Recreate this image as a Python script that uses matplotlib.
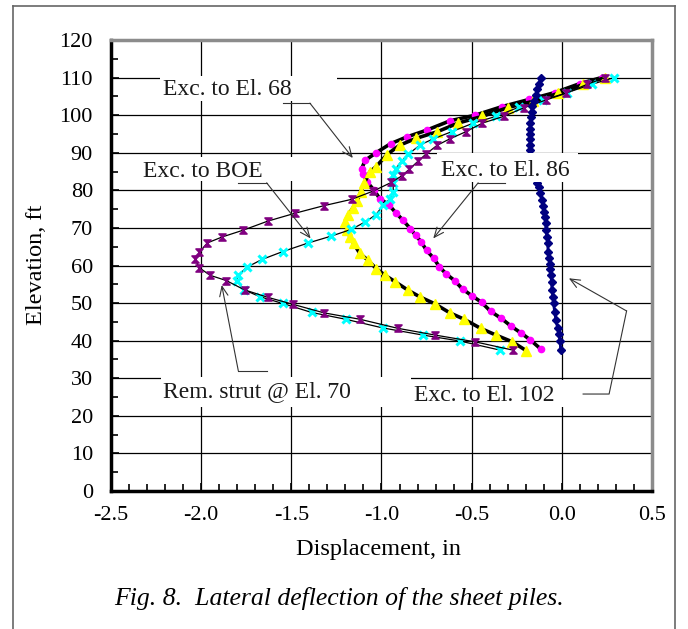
import numpy as np
import matplotlib
matplotlib.use('Agg')
import matplotlib.pyplot as plt
from matplotlib.path import Path
from matplotlib.patches import Rectangle
from matplotlib.lines import Line2D

plt.rcParams['font.family'] = ['Liberation Serif', 'DejaVu Serif']
plt.rcParams['axes.unicode_minus'] = False

# data (displacement in inches, elevation in ft)

# Exc. to El. 86 (magenta)
mag_x = [0.22, 0.10, -0.04, -0.18, -0.33, -0.48, -0.62, -0.75, -0.86, -0.95, -1.03, -1.09, -1.11, -1.10,
         -1.08, -1.04, -1.01, -0.96, -0.92, -0.88, -0.84, -0.81, -0.78, -0.75, -0.71, -0.68, -0.64, -0.595,
         -0.55, -0.50, -0.445, -0.395, -0.335, -0.28, -0.225, -0.175, -0.115]
mag_y = [110, 108.4, 106.0, 104.2, 102.3, 100.0, 98.5, 96.0, 94.2, 92.4, 90.0, 88.0, 85.8, 84.4,
         82.2, 80.0, 77.8, 76.2, 74.0, 72.0, 69.8, 68.0, 66.3, 64.0, 61.9, 59.7, 57.7, 56.0,
         53.7, 52.0, 50.2, 47.8, 45.9, 43.8, 42.0, 40.2, 37.7]

# Exc. to El. 68 (yellow)
yel_x = [0.24, 0.12, -0.02, -0.16, -0.30, -0.44, -0.575, -0.69, -0.81, -0.90, -0.97, -1.03, -1.065,
         -1.095, -1.115, -1.135, -1.16, -1.185, -1.20, -1.19, -1.175, -1.155, -1.12, -1.075, -1.03,
         -0.98, -0.925, -0.852, -0.785, -0.704, -0.621, -0.542, -0.451, -0.366, -0.275, -0.196]
yel_y = [110, 108.2, 105.8, 103.7, 102.0, 99.7, 97.9, 95.6, 93.8, 92.0, 89.5, 86.3, 84.9,
         82.0, 79.6, 77.2, 75.2, 73.4, 71.6, 69.5, 67.6, 65.9, 63.2, 61.4, 59.2,
         57.4, 55.7, 53.4, 51.6, 49.8, 47.4, 45.7, 43.3, 41.5, 39.7, 37.3]

# Exc. to BOE (cyan)
cyan_x = [0.29, 0.165, 0.03, -0.104, -0.24, -0.364, -0.49, -0.611, -0.713, -0.785, -0.852, -0.889,
          -0.921, -0.935, -0.935, -0.935, -0.955, -0.99, -1.031, -1.09, -1.168, -1.28, -1.406, -1.548,
          -1.663, -1.748, -1.794, -1.803, -1.761, -1.674, -1.548, -1.387, -1.199, -0.994, -0.772,
          -0.565, -0.344]
cyan_y = [110, 108.2, 106.0, 104.0, 102.1, 99.7, 97.9, 95.6, 93.7, 92.1, 89.6, 87.8,
          85.7, 84.1, 82.0, 79.6, 77.7, 76.1, 73.5, 71.6, 69.6, 67.8, 66.0, 63.7,
          61.6, 59.5, 57.4, 55.9, 53.5, 51.7, 49.9, 47.5, 45.7, 43.4, 41.5,
          39.9, 37.5]

# Rem. strut @ El. 70 (purple)
pur_x = [0.24, 0.14, 0.022, -0.09, -0.209, -0.321, -0.44, -0.532, -0.621, -0.691, -0.752, -0.796,
         -0.846, -0.889, -0.946, -1.046, -1.166, -1.321, -1.48, -1.631, -1.767, -1.883, -1.966, -2.01,
         -2.034, -2.01, -1.951, -1.861, -1.759, -1.628, -1.493, -1.319, -1.12, -0.911, -0.704,
         -0.482, -0.273]
pur_y = [110, 108.2, 105.8, 104.0, 102.0, 99.7, 97.9, 95.6, 93.7, 92.0, 89.7, 87.8,
         85.6, 83.8, 82.1, 79.8, 77.6, 75.9, 73.9, 71.8, 69.4, 67.6, 66.0, 63.5,
         61.7, 59.4, 57.4, 56.0, 53.5, 51.5, 49.7, 47.4, 45.7, 43.3, 41.5,
         39.7, 37.5]

# Exc. to El. 102 (navy)
navy_x = [-0.117, -0.126, -0.135, -0.143, -0.154, -0.163, -0.168, -0.172, -0.174, -0.176, -0.176,
          -0.176, -0.176, -0.176, -0.172, -0.165, -0.157, -0.149, -0.142, -0.137, -0.128, -0.122,
          -0.109, -0.104, -0.098, -0.094, -0.090, -0.087, -0.083, -0.079, -0.076, -0.071, -0.067,
          -0.065, -0.061, -0.057, -0.055, -0.050, -0.046, -0.040, -0.033, -0.024, -0.018, -0.009,
          -0.007]
navy_y = [110, 108.4, 106.9, 105.3, 103.9, 102.5, 100.9, 99.4, 97.8, 96.4, 94.9,
          93.6, 92.1, 90.7, 89.2, 87.6, 86.0, 84.6, 83.3, 82.0, 80.9, 79.3,
          77.4, 75.9, 74.3, 72.8, 71.2, 69.4, 67.6, 65.9, 63.7, 62.1, 60.5,
          59.2, 57.4, 55.7, 53.6, 51.7, 49.9, 47.7, 45.5, 43.5, 41.8, 39.9,
          37.5]

x_ticks = [-2.5, -2.0, -1.5, -1.0, -0.5, 0.0, 0.5]
x_labels = ['-2.5', '-2.0', '-1.5', '-1.0', '-0.5', '0.0', '0.5']
y_ticks = [0, 10, 20, 30, 40, 50, 60, 70, 80, 90, 100, 110, 120]

###################################################################

fig = plt.figure(figsize=(6.88, 6.29), dpi=100)
ax = fig.add_axes([0.1613, 0.2194, 0.7864, 0.717])

# hourglass marker like the excel one
hourglass = Path([(-1, 1), (1, 1), (-1, -1), (1, -1), (-1, 1)],
                 [Path.MOVETO, Path.LINETO, Path.LINETO, Path.LINETO, Path.CLOSEPOLY])

ax.plot(mag_x, mag_y, color='black', lw=2.6, marker='o', ms=4.5, mfc='#FF00FF', mec='#FF00FF', zorder=3)
ax.plot(yel_x, yel_y, color='black', lw=2.6, marker='^', ms=6.5, mfc='#FFFF00', mec='#FFFF00', zorder=3)
ax.plot(cyan_x, cyan_y, color='black', lw=0.9, marker='x', ms=6, mec='#00FFFF', mew=2.2, zorder=3)
ax.plot(pur_x, pur_y, color='black', lw=0.9, marker=hourglass, ms=5, mfc='#800080', mec='#800080',
        mew=1.2, zorder=3)
ax.plot(navy_x, navy_y, color='#000080', lw=2, marker='D', ms=4, mfc='#000080', mec='#000080', zorder=3)

ax.set_xlim(-2.5, 0.5)
ax.set_ylim(0, 120)
ax.set_xticks(x_ticks)
ax.set_xticklabels(x_labels)
ax.set_yticks(y_ticks)
ax.set_xticks(np.arange(-2.5, 0.51, 0.1), minor=True)
ax.set_yticks(np.arange(0, 121, 5), minor=True)
ax.tick_params(which='major', direction='in', length=6, width=1.2, labelsize=16)
ax.tick_params(which='minor', direction='in', length=5, width=1.2)
ax.tick_params(axis='y', pad=13)
ax.tick_params(axis='x', pad=11)
ax.grid(True, which='major', color='black', lw=0.9, zorder=0)
ax.set_axisbelow(True)

for side in ['left', 'bottom']:
    ax.spines[side].set_color('black')
    ax.spines[side].set_linewidth(2.5)
for side in ['top', 'right']:
    ax.spines[side].set_color('#8c8c8c')
    ax.spines[side].set_linewidth(2.5)

# annotation boxes (white fill hides the grid and the curve below)
def label_box(x0, y0, x1, y1, tx, ty, txt):
    ax.add_patch(Rectangle((x0, y0), x1 - x0, y1 - y0, facecolor='white', edgecolor='none', zorder=4))
    ax.text(tx, ty, txt, fontsize=17, color='#1a1a1a', ha='center', va='center', zorder=5)

def leader(xs, ys, head):
    ax.plot(xs, ys, color='#333333', lw=0.8, zorder=6, clip_on=False)
    ax.annotate('', xy=head, xytext=(xs[-1], ys[-1]),
                arrowprops=dict(arrowstyle='->,head_length=0.7,head_width=0.3', color='#333333', lw=0.8,
                                shrinkA=0, shrinkB=0), zorder=6)

label_box(-2.228, 103.8, -1.247, 110.3, -1.857, 106.9, 'Exc. to El. 68')
leader([-1.547, -1.397], [103.2, 103.2], (-1.159, 88.6))

label_box(-2.35, 82.4, -1.452, 88.8, -1.993, 85.1, 'Exc. to BOE')
leader([-1.794, -1.637], [82.0, 82.0], (-1.393, 67.2))

label_box(-0.693, 82.2, 0.089, 89.9, -0.312, 85.4, 'Exc. to El. 86')
leader([-0.316, -0.464], [82.0, 82.0], (-0.713, 67.2))

label_box(-2.223, 22.3, -0.837, 30.3, -1.691, 26.4, 'Rem. strut @ El. 70')
leader([-1.637, -1.794], [32.0, 32.0], (-1.886, 54.8))

label_box(-0.870, 22.3, 0.089, 29.5, -0.432, 25.3, 'Exc. to El. 102')
leader([0.118, 0.262, 0.359], [25.8, 25.8, 47.9], (0.039, 56.6))

# axis titles and caption
fig.text(378 / 688, 1 - 549 / 629, 'Displacement, in', fontsize=17.5, ha='center', va='center')
fig.text(37 / 688, 1 - 265 / 629, 'Elevation, ft', fontsize=17.5, ha='center', va='center', rotation=90)
fig.text(339 / 688, 1 - 598 / 629, 'Fig. 8.  Lateral deflection of the sheet piles.', fontsize=18.5,
         style='italic', ha='center', va='center')

# outer frame
fc = '#666666'
fig.add_artist(Line2D([13 / 688, 13 / 688], [0, 1 - 6 / 629], color=fc, lw=1.2, transform=fig.transFigure))
fig.add_artist(Line2D([675 / 688, 675 / 688], [0, 1 - 6 / 629], color=fc, lw=1.2, transform=fig.transFigure))
fig.add_artist(Line2D([13 / 688, 675 / 688], [1 - 6 / 629, 1 - 6 / 629], color=fc, lw=1.2,
                      transform=fig.transFigure))

fig.savefig('out.png', dpi=100)
